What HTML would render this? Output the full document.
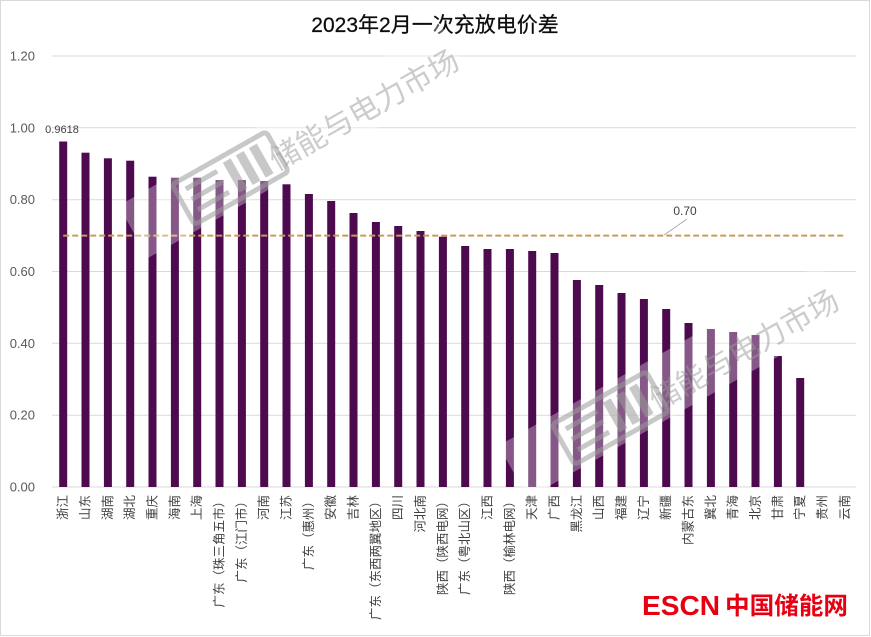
<!DOCTYPE html>
<html>
<head>
<meta charset="utf-8">
<style>
html,body{margin:0;padding:0;background:#fff;}
svg{display:block;}
.yt{font-family:"Liberation Sans","Noto Sans CJK SC",sans-serif;font-size:13px;fill:#595959;text-anchor:end;}
.xl{font-family:"Liberation Sans","Noto Sans CJK SC",sans-serif;font-size:12.5px;fill:#404040;text-anchor:end;dominant-baseline:central;}
.b{fill:#4d0a4f;}
.wmt{font-family:"Noto Sans CJK SC","WenQuanYi Zen Hei",sans-serif;font-size:30px;fill:#9a9a9a;fill-opacity:0.5;}
</style>
</head>
<body>
<svg width="871" height="637" viewBox="0 0 871 637" xmlns="http://www.w3.org/2000/svg">
<rect x="0" y="0" width="871" height="637" fill="#fff"/>
<rect x="0.5" y="0.5" width="869" height="635" fill="none" stroke="#d9d9d9" stroke-width="1"/>

<!-- title -->
<text x="435" y="32" text-anchor="middle" font-family="Liberation Sans, Noto Sans CJK SC, sans-serif" font-size="21" fill="#0d0d0d" stroke="#0d0d0d" stroke-width="0.25">2023年2月一次充放电价差</text>

<!-- gridlines -->
<g stroke="#d9d9d9" stroke-width="1">
<line x1="52" y1="56" x2="856" y2="56"/>
<line x1="52" y1="127.8" x2="856" y2="127.8"/>
<line x1="52" y1="199.7" x2="856" y2="199.7"/>
<line x1="52" y1="271.5" x2="856" y2="271.5"/>
<line x1="52" y1="343.3" x2="856" y2="343.3"/>
<line x1="52" y1="415.2" x2="856" y2="415.2"/>
<line x1="52" y1="487" x2="856" y2="487"/>
</g>

<!-- y ticks -->
<text class="yt" x="35" y="60.5">1.20</text>
<text class="yt" x="35" y="132.3">1.00</text>
<text class="yt" x="35" y="204.2">0.80</text>
<text class="yt" x="35" y="276">0.60</text>
<text class="yt" x="35" y="347.8">0.40</text>
<text class="yt" x="35" y="419.7">0.20</text>
<text class="yt" x="35" y="491.5">0.00</text>

<!-- bars -->
<rect class="b" x="59.2" y="141.5" width="8" height="345.5"/>
<rect class="b" x="81.5" y="152.7" width="8" height="334.3"/>
<rect class="b" x="103.9" y="158.3" width="8" height="328.7"/>
<rect class="b" x="126.2" y="160.7" width="8" height="326.3"/>
<rect class="b" x="148.5" y="176.7" width="8" height="310.3"/>
<rect class="b" x="170.9" y="177.7" width="8" height="309.3"/>
<rect class="b" x="193.2" y="177.7" width="8" height="309.3"/>
<rect class="b" x="215.5" y="180" width="8" height="307"/>
<rect class="b" x="237.9" y="180" width="8" height="307"/>
<rect class="b" x="260.2" y="181" width="8" height="306"/>
<rect class="b" x="282.5" y="184.3" width="8" height="302.7"/>
<rect class="b" x="304.9" y="194" width="8" height="293"/>
<rect class="b" x="327.2" y="201" width="8" height="286"/>
<rect class="b" x="349.5" y="213" width="8" height="274"/>
<rect class="b" x="371.9" y="222" width="8" height="265"/>
<rect class="b" x="394.2" y="226" width="8" height="261"/>
<rect class="b" x="416.5" y="231" width="8" height="256"/>
<rect class="b" x="438.9" y="236.7" width="8" height="250.3"/>
<rect class="b" x="461.2" y="246" width="8" height="241"/>
<rect class="b" x="483.5" y="249" width="8" height="238"/>
<rect class="b" x="505.9" y="249" width="8" height="238"/>
<rect class="b" x="528.2" y="251" width="8" height="236"/>
<rect class="b" x="550.5" y="253" width="8" height="234"/>
<rect class="b" x="572.9" y="280" width="8" height="207"/>
<rect class="b" x="595.2" y="285" width="8" height="202"/>
<rect class="b" x="617.5" y="293" width="8" height="194"/>
<rect class="b" x="639.9" y="299" width="8" height="188"/>
<rect class="b" x="662.2" y="309" width="8" height="178"/>
<rect class="b" x="684.5" y="323" width="8" height="164"/>
<rect class="b" x="706.9" y="329" width="8" height="158"/>
<rect class="b" x="729.2" y="332" width="8" height="155"/>
<rect class="b" x="751.5" y="335" width="8" height="152"/>
<rect class="b" x="773.9" y="356" width="8" height="131"/>
<rect class="b" x="796.2" y="378" width="8" height="109"/>

<!-- average dashed line -->
<line x1="63.2" y1="235.6" x2="844.9" y2="235.6" stroke="#c99a5c" stroke-width="2" stroke-dasharray="6 3"/>

<!-- data labels -->
<text x="62" y="133" text-anchor="middle" font-family="Liberation Sans, sans-serif" font-size="11" fill="#404040">0.9618</text>
<text x="685" y="215" text-anchor="middle" font-family="Liberation Sans, sans-serif" font-size="12" fill="#404040">0.70</text>
<line x1="687" y1="219" x2="664" y2="235" stroke="#a6a6a6" stroke-width="0.8"/>

<!-- watermarks -->
<g transform="translate(148,258) rotate(-29.5)">
  <rect x="0" y="-60" width="370" height="60" fill="#fff" fill-opacity="0.32"/>
  <g transform="translate(22,0)">
  <rect x="35" y="-52" width="108" height="46" rx="4" fill="none" stroke="#9a9a9a" stroke-opacity="0.55" stroke-width="5"/>
  <g fill="#9a9a9a" fill-opacity="0.55">
    <rect x="45" y="-44" width="36" height="5"/>
    <rect x="45" y="-32" width="36" height="5"/>
    <rect x="45" y="-20" width="36" height="5"/>
    <rect x="90" y="-46" width="9" height="34"/>
    <rect x="105" y="-46" width="9" height="34"/>
    <rect x="120" y="-46" width="9" height="34"/>
  </g>
  </g>
  <text class="wmt" x="155" y="-12" textLength="212" lengthAdjust="spacingAndGlyphs">储能与电力市场</text>
</g>
<g transform="translate(528,498) rotate(-29.5)">
  <rect x="0" y="-60" width="370" height="60" fill="#fff" fill-opacity="0.32"/>
  <g transform="translate(22,0)">
  <rect x="35" y="-52" width="108" height="46" rx="4" fill="none" stroke="#9a9a9a" stroke-opacity="0.55" stroke-width="5"/>
  <g fill="#9a9a9a" fill-opacity="0.55">
    <rect x="45" y="-44" width="36" height="5"/>
    <rect x="45" y="-32" width="36" height="5"/>
    <rect x="45" y="-20" width="36" height="5"/>
    <rect x="90" y="-46" width="9" height="34"/>
    <rect x="105" y="-46" width="9" height="34"/>
    <rect x="120" y="-46" width="9" height="34"/>
  </g>
  </g>
  <text class="wmt" x="155" y="-12" textLength="212" lengthAdjust="spacingAndGlyphs">储能与电力市场</text>
</g>

<!-- x labels -->
<text class="xl" transform="translate(63.2,495) rotate(-90)">浙江</text>
<text class="xl" transform="translate(85.5,495) rotate(-90)">山东</text>
<text class="xl" transform="translate(107.9,495) rotate(-90)">湖南</text>
<text class="xl" transform="translate(130.2,495) rotate(-90)">湖北</text>
<text class="xl" transform="translate(152.5,495) rotate(-90)">重庆</text>
<text class="xl" transform="translate(174.9,495) rotate(-90)">海南</text>
<text class="xl" transform="translate(197.2,495) rotate(-90)">上海</text>
<text class="xl" transform="translate(219.5,495) rotate(-90)">广东（珠三角五市）</text>
<text class="xl" transform="translate(241.9,495) rotate(-90)">广东（江门市）</text>
<text class="xl" transform="translate(264.2,495) rotate(-90)">河南</text>
<text class="xl" transform="translate(286.5,495) rotate(-90)">江苏</text>
<text class="xl" transform="translate(308.9,495) rotate(-90)">广东（惠州）</text>
<text class="xl" transform="translate(331.2,495) rotate(-90)">安徽</text>
<text class="xl" transform="translate(353.5,495) rotate(-90)">吉林</text>
<text class="xl" transform="translate(375.9,495) rotate(-90)">广东（东西两翼地区）</text>
<text class="xl" transform="translate(398.2,495) rotate(-90)">四川</text>
<text class="xl" transform="translate(420.5,495) rotate(-90)">河北南</text>
<text class="xl" transform="translate(442.9,495) rotate(-90)">陕西（陕西电网）</text>
<text class="xl" transform="translate(465.2,495) rotate(-90)">广东（粤北山区）</text>
<text class="xl" transform="translate(487.5,495) rotate(-90)">江西</text>
<text class="xl" transform="translate(509.9,495) rotate(-90)">陕西（榆林电网）</text>
<text class="xl" transform="translate(532.2,495) rotate(-90)">天津</text>
<text class="xl" transform="translate(554.5,495) rotate(-90)">广西</text>
<text class="xl" transform="translate(576.9,495) rotate(-90)">黑龙江</text>
<text class="xl" transform="translate(599.2,495) rotate(-90)">山西</text>
<text class="xl" transform="translate(621.5,495) rotate(-90)">福建</text>
<text class="xl" transform="translate(643.9,495) rotate(-90)">辽宁</text>
<text class="xl" transform="translate(666.2,495) rotate(-90)">新疆</text>
<text class="xl" transform="translate(688.5,495) rotate(-90)">内蒙古东</text>
<text class="xl" transform="translate(710.9,495) rotate(-90)">冀北</text>
<text class="xl" transform="translate(733.2,495) rotate(-90)">青海</text>
<text class="xl" transform="translate(755.5,495) rotate(-90)">北京</text>
<text class="xl" transform="translate(777.9,495) rotate(-90)">甘肃</text>
<text class="xl" transform="translate(800.2,495) rotate(-90)">宁夏</text>
<text class="xl" transform="translate(822.5,495) rotate(-90)">贵州</text>
<text class="xl" transform="translate(844.9,495) rotate(-90)">云南</text>

<!-- ESCN logo -->
<text x="642" y="615" font-family="Liberation Sans, sans-serif" font-weight="bold" font-size="28" fill="#e60012" textLength="78" lengthAdjust="spacingAndGlyphs">ESCN</text>
<text x="725" y="614" font-family="Noto Sans CJK SC, WenQuanYi Zen Hei, sans-serif" font-weight="bold" font-size="24" fill="#e60012" textLength="123" lengthAdjust="spacingAndGlyphs">中国储能网</text>
</svg>
</body>
</html>
